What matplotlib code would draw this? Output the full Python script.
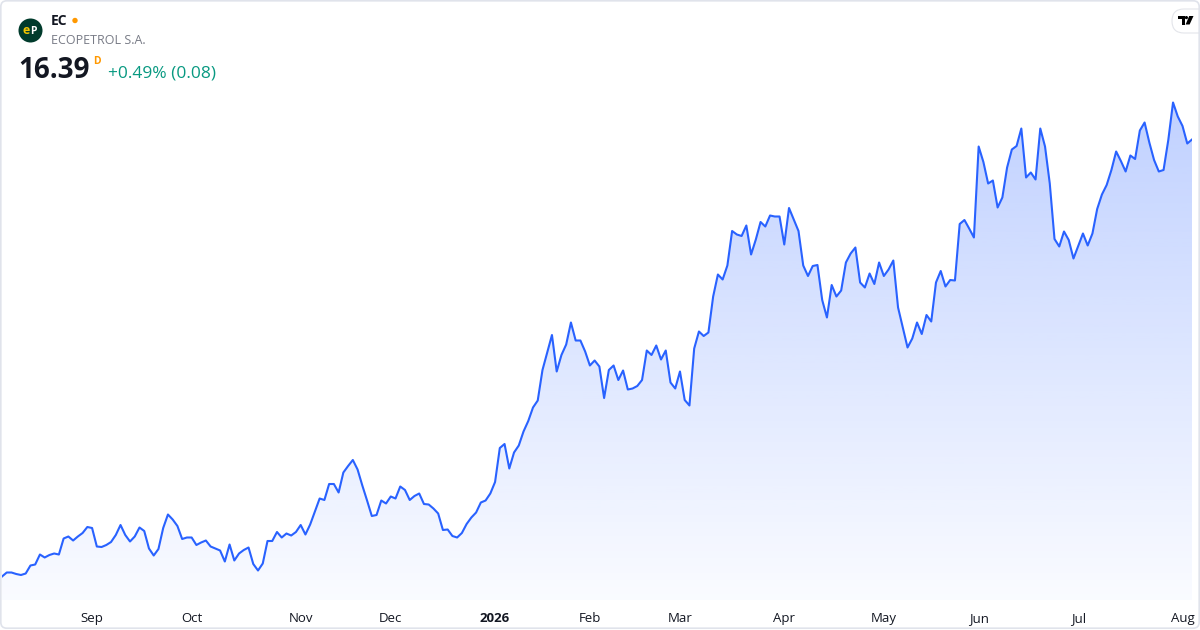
"""
EC daily price chart
"""

import matplotlib
matplotlib.use("Agg")

import matplotlib.pyplot as plt
import numpy as np
from matplotlib.patches import Circle, FancyBboxPatch, PathPatch, Polygon


# ==========================================================
# Data
# ==========================================================

ticker = "EC"
company = "ECOPETROL S.A."
last_price = "16.39"
change_text = "+0.49% (0.08)"

# daily closes, Aug 2025 -> Aug 2026 (one value per trading day)
closes = [
    7.65, 7.73, 7.73, 7.70, 7.68, 7.71, 7.87, 7.89, 8.09, 8.03,
    8.08, 8.11, 8.09, 8.41, 8.45, 8.37, 8.45, 8.52, 8.64, 8.62,
    8.25, 8.24, 8.28, 8.34, 8.48, 8.68, 8.48, 8.35, 8.45, 8.63,
    8.56, 8.21, 8.07, 8.20, 8.62, 8.89, 8.79, 8.66, 8.40, 8.43,
    8.43, 8.28, 8.33, 8.37, 8.25, 8.21, 8.17, 7.95, 8.29, 7.97,
    8.11, 8.18, 8.23, 7.90, 7.77, 7.91, 8.36, 8.36, 8.54, 8.43,
    8.51, 8.47, 8.54, 8.68, 8.49, 8.69, 8.95, 9.21, 9.18, 9.50,
    9.50, 9.33, 9.73, 9.86, 9.98, 9.79, 9.47, 9.17, 8.86, 8.88,
    9.17, 9.11, 9.25, 9.21, 9.45, 9.38, 9.18, 9.26, 9.31, 9.10,
    9.09, 9.01, 8.91, 8.58, 8.59, 8.46, 8.43, 8.52, 8.70, 8.83,
    8.93, 9.13, 9.17, 9.31, 9.54, 10.22, 10.30, 9.81, 10.13, 10.27,
    10.55, 10.76, 11.03, 11.17, 11.78, 12.13, 12.48, 11.75, 12.08, 12.29,
    12.73, 12.37, 12.37, 12.15, 11.87, 11.97, 11.85, 11.22, 11.78, 11.87,
    11.58, 11.77, 11.39, 11.41, 11.46, 11.58, 12.17, 12.08, 12.27, 11.99,
    12.17, 11.53, 11.41, 11.75, 11.18, 11.07, 12.21, 12.55, 12.46, 12.53,
    13.25, 13.69, 13.59, 13.87, 14.56, 14.49, 14.46, 14.67, 14.09, 14.39,
    14.74, 14.65, 14.87, 14.85, 14.85, 14.29, 15.02, 14.79, 14.56, 13.87,
    13.66, 13.86, 13.88, 13.18, 12.83, 13.48, 13.25, 13.37, 13.93, 14.11,
    14.23, 13.53, 13.43, 13.71, 13.50, 13.93, 13.66, 13.79, 13.97, 13.03,
    12.63, 12.23, 12.41, 12.73, 12.50, 12.88, 12.75, 13.53, 13.76, 13.45,
    13.58, 13.57, 14.70, 14.78, 14.61, 14.43, 16.25, 15.94, 15.51, 15.57,
    15.03, 15.23, 15.83, 16.19, 16.26, 16.61, 15.63, 15.73, 15.59, 16.61,
    16.25, 15.51, 14.40, 14.25, 14.55, 14.38, 14.01, 14.26, 14.51, 14.27,
    14.51, 15.00, 15.29, 15.48, 15.78, 16.15, 15.96, 15.75, 16.07, 16.00,
    16.57, 16.73, 16.33, 15.98, 15.75, 15.78, 16.38, 17.13, 16.85, 16.66,
    16.31, 16.39,
]

# first trading day of each month (bar index) and its label
month_index = [19, 40, 63, 82, 104, 124, 143, 165, 186, 206, 227, 249]
month_labels = ["Sep", "Oct", "Nov", "Dec", "2026", "Feb",
                "Mar", "Apr", "May", "Jun", "Jul", "Aug"]


# ==========================================================
# Figure
# ==========================================================

W, H = 1200, 630

LINE = "#2962FF"
TEXT = "#131722"
GREY = "#787B86"
GREEN = "#089981"
ORANGE = "#FF9800"

plt.rcParams["font.family"] = ["Open Sans", "DejaVu Sans"]

fig = plt.figure(figsize=(W / 100, H / 100), dpi=100)
fig.patch.set_facecolor("white")

ax = fig.add_axes([2 / W, 30 / H, 1190 / W, 510 / H])

x = np.arange(len(closes))
y = np.array(closes)

ax.set_xlim(0, len(closes) - 1)
ax.set_ylim(7.18, 17.38)

# gradient area under the line
fill = ax.fill_between(x, y, 7.18, facecolor="none", edgecolor="none")

grad = np.zeros((256, 1, 4))
grad[:, 0, 0] = 41 / 255
grad[:, 0, 1] = 98 / 255
grad[:, 0, 2] = 1.0
grad[:, 0, 3] = np.linspace(0.30, 0.025, 256)

img = ax.imshow(
    grad,
    extent=(0, len(closes) - 1, 7.18, 17.38),
    aspect="auto",
    origin="upper",
    zorder=1
)

clip = PathPatch(
    fill.get_paths()[0],
    transform=ax.transData,
    facecolor="none",
    edgecolor="none"
)
ax.add_patch(clip)
img.set_clip_path(clip)

ax.plot(x, y, color=LINE, linewidth=1.5, zorder=3, solid_joinstyle="round")

for s in ax.spines.values():
    s.set_visible(False)

ax.set_yticks([])
ax.set_xticks(month_index)
ax.set_xticklabels(month_labels, fontsize=9.5, color=TEXT)
ax.tick_params(axis="x", length=0, pad=8.5)

for lbl in ax.get_xticklabels():
    if lbl.get_text() == "2026":
        lbl.set_fontweight("bold")


# ==========================================================
# Header (overlay in pixel coordinates)
# ==========================================================

top = fig.add_axes([0, 0, 1, 1])
top.set_xlim(0, W)
top.set_ylim(H, 0)
top.axis("off")
top.patch.set_alpha(0)

top.add_patch(Circle((30.5, 30.5), 12, facecolor="#003B2C", edgecolor="none"))
top.text(26.6, 34, "e", color="#F2C500", fontsize=9,
         fontweight="bold", ha="center", va="baseline")
top.text(33.8, 34, "P", color="white", fontsize=7.5,
         fontweight="bold", ha="center", va="baseline")

top.text(51, 21, ticker, color=TEXT, fontsize=10,
         fontweight="bold", va="center")
top.add_patch(Circle((75, 20.5), 2.7, facecolor=ORANGE, edgecolor="none"))
top.text(51, 41, company, color=GREY, fontsize=9, va="center")

top.text(18, 71, last_price, color=TEXT, fontsize=20,
         fontweight="bold", va="center")
top.text(93, 61, "D", color=ORANGE, fontsize=7.5,
         fontweight="bold", va="center")
top.text(108, 74, change_text, color=GREEN, fontsize=12.5, va="center")

# TradingView badge
top.add_patch(
    FancyBboxPatch((1172, 9), 40, 24,
                   boxstyle="round,pad=0,rounding_size=12",
                   facecolor="white", edgecolor="#E3E5EA", linewidth=0.8)
)
top.add_patch(Polygon([(1178, 16), (1184.5, 16), (1184.5, 24.5),
                       (1181.5, 24.5), (1181.5, 19), (1178, 19)],
                      closed=True, facecolor="black", edgecolor="none"))
top.add_patch(Circle((1186.4, 17.6), 1.6, facecolor="black", edgecolor="none"))
top.add_patch(Polygon([(1189.2, 16), (1193.5, 16), (1189.6, 24.5),
                       (1185.6, 24.5)],
                      closed=True, facecolor="black", edgecolor="none"))

# outer frame
top.add_patch(
    FancyBboxPatch((0.8, 0.8), 1198.4, 627.4,
                   boxstyle="round,pad=0,rounding_size=6",
                   facecolor="none", edgecolor="#E0E3EB", linewidth=1.2)
)

fig.savefig("out.png", dpi=100, facecolor="white")
